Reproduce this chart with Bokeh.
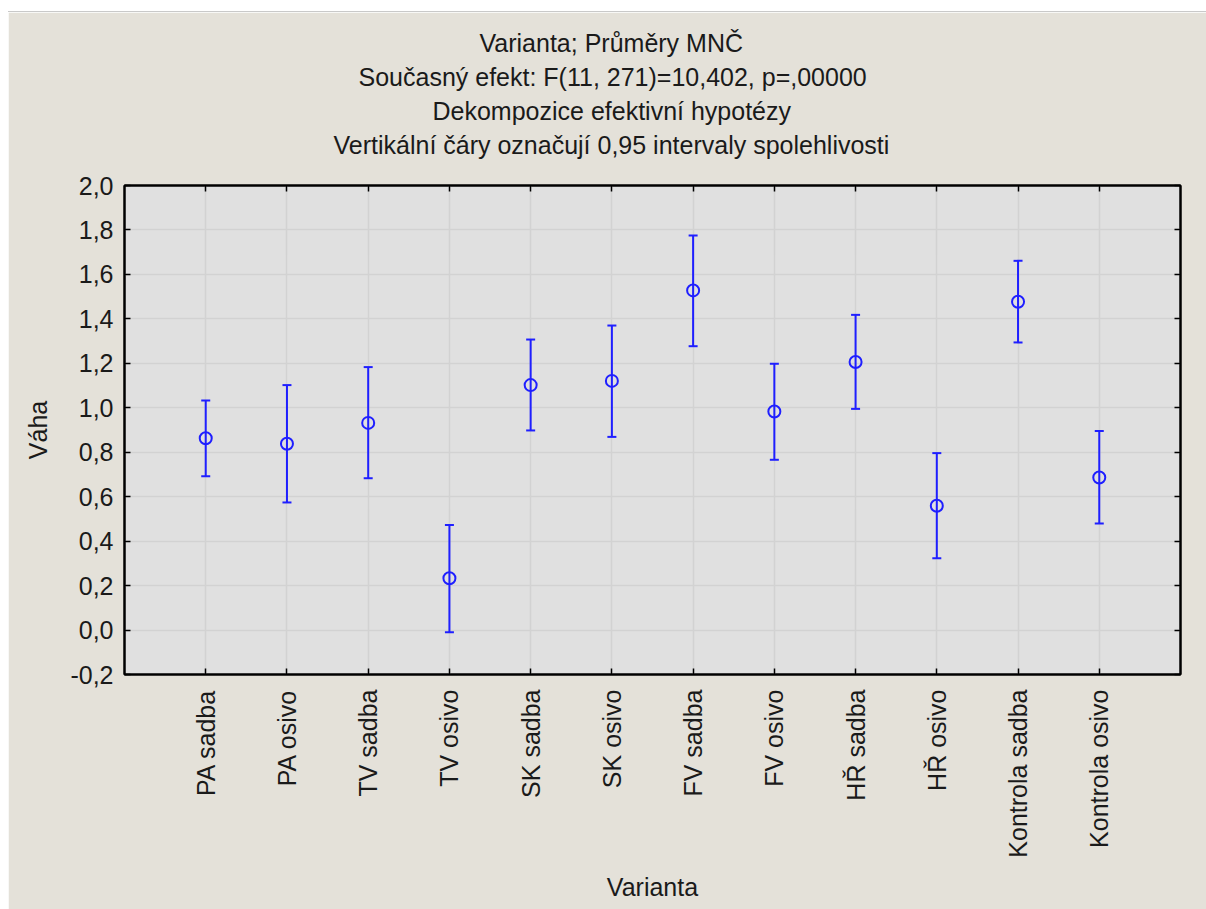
from bokeh.plotting import figure
from bokeh.models import (ColumnDataSource, FixedTicker, LinearAxis, Whisker, TeeHead,
                          Title, Range1d, Spacer)
from bokeh.layouts import column, row
from bokeh.embed import file_html
from bokeh.resources import INLINE
import math

# ---- data ----
categories = ["PA sadba", "PA osivo", "TV sadba", "TV osivo", "SK sadba", "SK osivo",
              "FV sadba", "FV osivo", "HŘ sadba", "HŘ osivo", "Kontrola sadba", "Kontrola osivo"]
means = [0.863, 0.838, 0.932, 0.233, 1.102, 1.121, 1.528, 0.983, 1.206, 0.559, 1.477, 0.686]
upper = [1.033, 1.102, 1.183, 0.473, 1.307, 1.370, 1.775, 1.198, 1.418, 0.796, 1.661, 0.896]
lower = [0.692, 0.574, 0.683, -0.010, 0.898, 0.869, 1.277, 0.766, 0.995, 0.323, 1.294, 0.479]
y_ticks = [-0.2, 0.0, 0.2, 0.4, 0.6, 0.8, 1.0, 1.2, 1.4, 1.6, 1.8, 2.0]
y_tick_labels = ["-0,2", "0,0", "0,2", "0,4", "0,6", "0,8", "1,0", "1,2", "1,4", "1,6", "1,8", "2,0"]
title_lines = ["Varianta; Průměry MNČ",
               "Současný efekt: F(11, 271)=10,402, p=,00000",
               "Dekompozice efektivní hypotézy",
               "Vertikální čáry označují 0,95 intervaly spolehlivosti"]
# left offsets (px from plot frame) that centre each title line like the original
title_offsets = [355, 234, 308, 209]

FONT = "Liberation Sans"
FS = "25px"
BLUE = "#1f1fff"
BEIGE = "#e4e1d9"
PLOTBG = "#e0e0e0"
GRID = "#d2d2d2"
TXT = "#1a1a1a"

xs = list(range(1, len(categories) + 1))
src = ColumnDataSource(dict(x=xs, mean=means, upper=upper, lower=lower))

p = figure(width=1198, height=897, output_backend="svg", toolbar_location=None,
           x_range=Range1d(0, len(categories) + 1), y_range=Range1d(-0.2, 2.0),
           min_border_left=116, min_border_right=26, min_border_top=173, min_border_bottom=235)
p.background_fill_color = PLOTBG
p.border_fill_color = BEIGE
p.outline_line_color = "black"
p.outline_line_width = 2
p.styles = {"box-shadow": "0 -1px 0 0 #c9c9c9"}

xt = FixedTicker(ticks=xs)
yt = FixedTicker(ticks=y_ticks)

def style_axis(ax):
    ax.axis_line_color = "black"
    ax.axis_line_width = 2
    ax.major_tick_in = 6
    ax.major_tick_out = 0
    ax.major_tick_line_color = "black"
    ax.major_tick_line_width = 1.5
    ax.minor_tick_line_color = None
    ax.major_label_text_font = FONT
    ax.major_label_text_font_size = FS
    ax.major_label_text_color = TXT
    ax.axis_label_text_font = FONT
    ax.axis_label_text_font_size = FS
    ax.axis_label_text_font_style = "normal"
    ax.axis_label_text_color = TXT

xa = p.xaxis[0]
xa.ticker = xt
xa.major_label_overrides = {x: c for x, c in zip(xs, categories)}
xa.major_label_orientation = math.pi / 2
xa.major_label_standoff = 15
xa.axis_label = "Varianta"
xa.axis_label_standoff = 12
style_axis(xa)

ya = p.yaxis[0]
ya.ticker = yt
ya.major_label_overrides = {v: s for v, s in zip(y_ticks, y_tick_labels)}
ya.major_label_standoff = 11
ya.axis_label = "Váha"
ya.axis_label_standoff = 15
style_axis(ya)

top = LinearAxis(ticker=xt)
style_axis(top)
top.major_label_overrides = {x: "" for x in xs}
top.major_label_text_font_size = "1px"
top.major_label_standoff = 0
p.add_layout(top, "above")

# invisible spacer axis: keeps a gap between the frame and the title block
gap = LinearAxis(ticker=xt, axis_line_color=None, major_tick_line_color=None,
                 minor_tick_line_color=None, major_tick_in=0, major_tick_out=25,
                 major_label_text_font_size="1px", major_label_standoff=0)
gap.major_label_overrides = {x: "" for x in xs}
p.add_layout(gap, "above")

right = LinearAxis(ticker=yt)
style_axis(right)
right.major_label_overrides = {v: "" for v in y_ticks}
right.major_label_text_font_size = "1px"
right.major_label_standoff = 0
p.add_layout(right, "right")

p.xgrid.ticker = xt
p.ygrid.ticker = yt
p.xgrid.grid_line_color = GRID
p.ygrid.grid_line_color = GRID
p.xgrid.grid_line_width = 1.5
p.ygrid.grid_line_width = 1.5

w = Whisker(source=src, base="x", upper="upper", lower="lower", dimension="height",
            line_color=BLUE, line_width=2,
            upper_head=TeeHead(size=9, line_color=BLUE, line_width=2),
            lower_head=TeeHead(size=9, line_color=BLUE, line_width=2))
p.add_layout(w)
p.scatter("x", "mean", source=src, marker="circle", size=12, fill_color=None,
          line_color=BLUE, line_width=2)

# title lines: added from the one nearest the plot outward
pairs = list(zip(title_lines, title_offsets))
for t, off in reversed(pairs):
    p.add_layout(Title(text=t, align="left", offset=off, text_font=FONT,
                       text_font_size=FS, text_font_style="normal", text_color=TXT,
                       standoff=4), "above")

layout = row(Spacer(width=8, height=909), column(Spacer(width=1198, height=12), p))
open("out.html", "w").write(file_html(layout, INLINE))
